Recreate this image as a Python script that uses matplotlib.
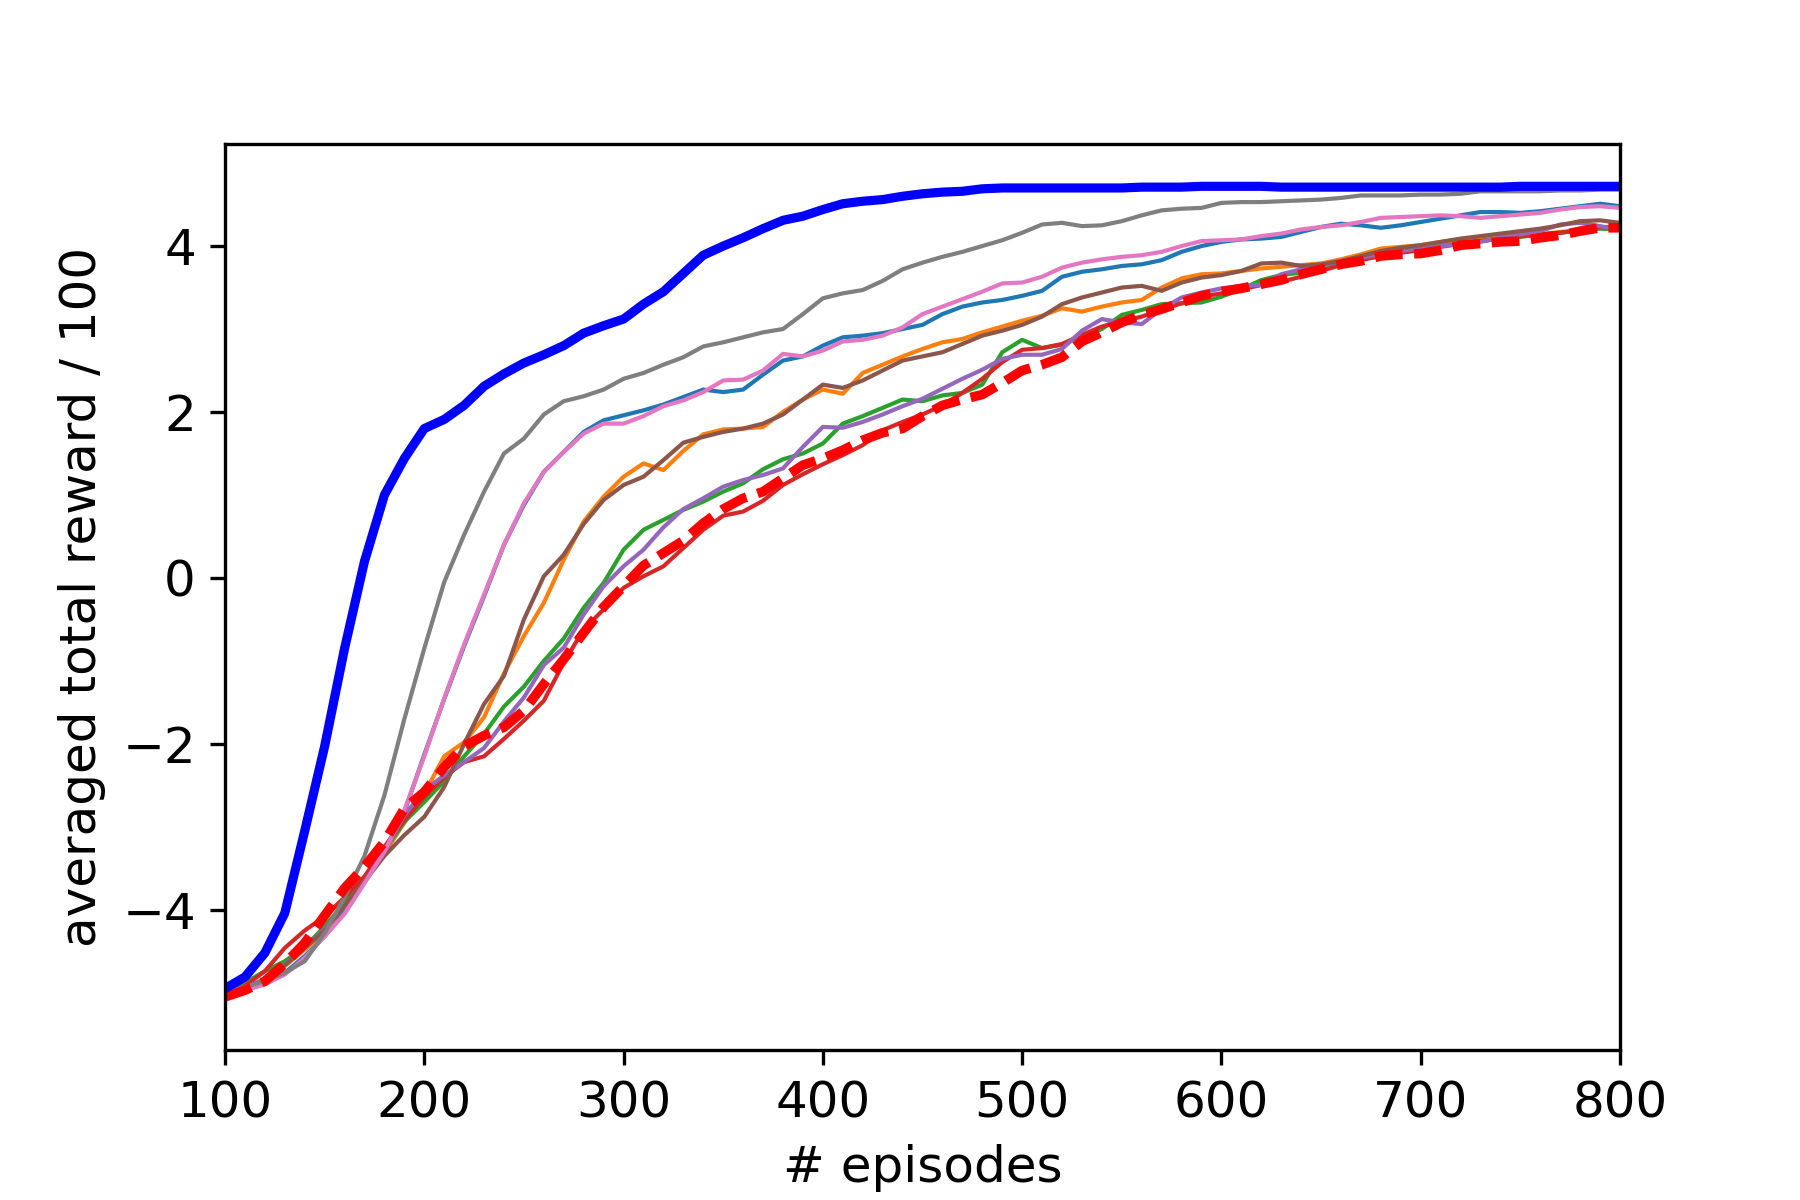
import numpy as np
import matplotlib
matplotlib.use("Agg")
import matplotlib.pyplot as plt

episodes = list(range(100, 801, 10))

ours = [-4.95, -4.81, -4.52, -4.04, -3.05, -2.03, -0.85, 0.20, 1.00, 1.44,
        1.80, 1.91, 2.08, 2.31, 2.46, 2.59, 2.69, 2.80, 2.95, 3.04,
        3.12, 3.30, 3.45, 3.67, 3.89, 4.00, 4.10, 4.21, 4.31, 4.36,
        4.44, 4.51, 4.54, 4.56, 4.60, 4.63, 4.65, 4.66, 4.69, 4.70,
        4.70, 4.70, 4.70, 4.70, 4.70, 4.70, 4.71, 4.71, 4.71, 4.72,
        4.72, 4.72, 4.72, 4.71, 4.71, 4.71, 4.71, 4.71, 4.71, 4.71,
        4.71, 4.71, 4.71, 4.71, 4.71, 4.72, 4.72, 4.72, 4.72, 4.72, 4.72]

baseline = [-5.05, -4.97, -4.86, -4.65, -4.40, -4.07, -3.74, -3.48, -3.18, -2.78,
            -2.58, -2.28, -2.03, -1.90, -1.80, -1.60, -1.28, -0.98, -0.66, -0.35,
            -0.10, 0.15, 0.30, 0.45, 0.66, 0.83, 0.96, 1.04, 1.20, 1.36,
            1.44, 1.54, 1.66, 1.75, 1.80, 1.95, 2.08, 2.15, 2.21, 2.35,
            2.50, 2.57, 2.66, 2.85, 2.96, 3.08, 3.17, 3.24, 3.32, 3.40,
            3.45, 3.49, 3.54, 3.59, 3.66, 3.72, 3.78, 3.82, 3.88, 3.90,
            3.91, 3.95, 4.01, 4.03, 4.05, 4.06, 4.10, 4.13, 4.18, 4.22, 4.22]

v_c0 = [-5.00, -4.95, -4.88, -4.76, -4.56, -4.32, -4.02, -3.66, -3.28, -2.82,
        -2.13, -1.46, -0.82, -0.22, 0.40, 0.88, 1.28, 1.52, 1.76, 1.90,
        1.96, 2.02, 2.09, 2.18, 2.27, 2.24, 2.27, 2.45, 2.62, 2.67,
        2.80, 2.90, 2.92, 2.95, 3.00, 3.05, 3.18, 3.27, 3.32, 3.35,
        3.40, 3.46, 3.63, 3.69, 3.72, 3.76, 3.78, 3.83, 3.93, 4.00,
        4.05, 4.08, 4.09, 4.11, 4.17, 4.23, 4.27, 4.25, 4.22, 4.25,
        4.29, 4.33, 4.37, 4.41, 4.41, 4.40, 4.42, 4.45, 4.48, 4.51, 4.48]

v_c1 = [-5.02, -4.95, -4.85, -4.68, -4.48, -4.28, -3.93, -3.60, -3.32, -2.95,
        -2.60, -2.15, -1.98, -1.68, -1.15, -0.70, -0.30, 0.22, 0.68, 0.98,
        1.22, 1.38, 1.30, 1.53, 1.73, 1.79, 1.80, 1.82, 2.00, 2.15,
        2.27, 2.22, 2.47, 2.57, 2.67, 2.76, 2.84, 2.88, 2.96, 3.03,
        3.10, 3.16, 3.25, 3.21, 3.27, 3.32, 3.35, 3.50, 3.61, 3.66,
        3.67, 3.70, 3.73, 3.75, 3.77, 3.79, 3.84, 3.90, 3.97, 3.99,
        4.01, 4.05, 4.08, 4.10, 4.11, 4.12, 4.14, 4.17, 4.19, 4.22, 4.24]

v_c2 = [-5.02, -4.88, -4.74, -4.62, -4.45, -4.20, -3.92, -3.63, -3.28, -2.94,
        -2.70, -2.45, -2.15, -1.88, -1.55, -1.31, -1.00, -0.73, -0.36, -0.06,
        0.34, 0.58, 0.70, 0.82, 0.92, 1.04, 1.14, 1.31, 1.43, 1.50,
        1.62, 1.86, 1.95, 2.05, 2.15, 2.13, 2.20, 2.23, 2.33, 2.72,
        2.87, 2.77, 2.81, 2.91, 3.00, 3.17, 3.23, 3.30, 3.31, 3.32,
        3.39, 3.48, 3.59, 3.65, 3.68, 3.74, 3.80, 3.85, 3.90, 3.93,
        3.96, 4.00, 4.03, 4.06, 4.09, 4.11, 4.14, 4.16, 4.19, 4.21, 4.20]

v_c3 = [-5.02, -4.92, -4.74, -4.46, -4.25, -4.08, -3.85, -3.60, -3.24, -2.92,
        -2.64, -2.40, -2.22, -2.15, -1.94, -1.72, -1.48, -1.02, -0.62, -0.38,
        -0.12, 0.02, 0.14, 0.36, 0.58, 0.75, 0.80, 0.93, 1.12, 1.25,
        1.37, 1.48, 1.60, 1.78, 1.88, 1.97, 2.08, 2.23, 2.40, 2.60,
        2.75, 2.77, 2.82, 2.93, 3.03, 3.09, 3.15, 3.23, 3.31, 3.39,
        3.43, 3.48, 3.53, 3.57, 3.63, 3.70, 3.77, 3.83, 3.88, 3.92,
        3.95, 3.99, 4.03, 4.06, 4.09, 4.12, 4.14, 4.16, 4.19, 4.23, 4.22]

v_c4 = [-5.02, -4.95, -4.83, -4.66, -4.46, -4.23, -3.96, -3.66, -3.30, -2.86,
        -2.56, -2.38, -2.22, -2.05, -1.73, -1.44, -1.05, -0.84, -0.44, -0.10,
        0.14, 0.34, 0.61, 0.83, 0.96, 1.10, 1.18, 1.24, 1.32, 1.58,
        1.82, 1.81, 1.88, 1.97, 2.07, 2.16, 2.28, 2.40, 2.51, 2.64,
        2.69, 2.69, 2.76, 2.98, 3.12, 3.08, 3.06, 3.24, 3.38, 3.44,
        3.49, 3.52, 3.53, 3.66, 3.72, 3.76, 3.82, 3.86, 3.90, 3.94,
        3.97, 4.00, 4.02, 4.05, 4.10, 4.14, 4.18, 4.26, 4.28, 4.24, 4.20]

v_c5 = [-5.02, -4.95, -4.84, -4.67, -4.46, -4.25, -3.95, -3.66, -3.35, -3.10,
        -2.88, -2.52, -2.00, -1.52, -1.18, -0.50, 0.02, 0.28, 0.65, 0.94,
        1.12, 1.22, 1.42, 1.63, 1.70, 1.76, 1.80, 1.86, 1.97, 2.15,
        2.33, 2.29, 2.38, 2.50, 2.62, 2.67, 2.72, 2.82, 2.92, 2.98,
        3.05, 3.15, 3.30, 3.38, 3.44, 3.50, 3.52, 3.46, 3.56, 3.62,
        3.65, 3.70, 3.79, 3.80, 3.76, 3.78, 3.82, 3.88, 3.94, 3.98,
        4.01, 4.05, 4.09, 4.12, 4.15, 4.18, 4.21, 4.25, 4.30, 4.31, 4.28]

v_c6 = [-5.02, -4.97, -4.90, -4.78, -4.58, -4.32, -4.05, -3.68, -3.30, -2.80,
        -2.15, -1.45, -0.80, -0.20, 0.40, 0.90, 1.28, 1.52, 1.74, 1.86,
        1.86, 1.95, 2.07, 2.14, 2.24, 2.38, 2.39, 2.50, 2.70, 2.67,
        2.74, 2.85, 2.87, 2.92, 3.02, 3.18, 3.27, 3.36, 3.45, 3.55,
        3.56, 3.63, 3.74, 3.80, 3.84, 3.87, 3.89, 3.93, 4.00, 4.06,
        4.07, 4.08, 4.12, 4.15, 4.20, 4.23, 4.25, 4.29, 4.34, 4.35,
        4.36, 4.37, 4.36, 4.34, 4.36, 4.38, 4.40, 4.44, 4.47, 4.48, 4.46]

v_c7 = [-5.00, -4.93, -4.86, -4.76, -4.62, -4.28, -3.85, -3.35, -2.62, -1.70,
        -0.85, -0.05, 0.52, 1.04, 1.50, 1.68, 1.97, 2.13, 2.19, 2.27,
        2.40, 2.47, 2.57, 2.66, 2.79, 2.84, 2.90, 2.96, 3.00, 3.18,
        3.37, 3.43, 3.47, 3.58, 3.72, 3.80, 3.87, 3.93, 4.00, 4.07,
        4.16, 4.26, 4.28, 4.24, 4.25, 4.30, 4.37, 4.43, 4.45, 4.46,
        4.52, 4.53, 4.53, 4.54, 4.55, 4.56, 4.58, 4.61, 4.61, 4.61,
        4.62, 4.62, 4.63, 4.66, 4.66, 4.66, 4.66, 4.67, 4.67, 4.68, 4.68]

thin_series = [v_c0, v_c1, v_c2, v_c3, v_c4, v_c5, v_c6, v_c7]
thin_colors = ["tab:blue", "tab:orange", "tab:green", "tab:red",
               "tab:purple", "tab:brown", "tab:pink", "tab:gray"]

plt.rcParams["font.family"] = ["DejaVu Sans"]
plt.rcParams["font.size"] = 12

fig, ax = plt.subplots(figsize=(6, 4), dpi=300)
fig.subplots_adjust(left=0.125, right=0.9, top=0.88, bottom=0.125)

for vals, col in zip(thin_series, thin_colors):
    ax.plot(episodes, vals, color=col, linewidth=1.0)

ax.plot(episodes, baseline, color="red", linewidth=2.3, linestyle=(0, (2.9, 1.2)))
ax.plot(episodes, ours, color="blue", linewidth=2.2)

ax.set_xlim(100, 800)
ax.set_ylim(-5.69, 5.23)
ax.set_yticks([-4, -2, 0, 2, 4])
ax.set_xlabel("# episodes")
ax.set_ylabel("averaged total reward / 100")

fig.savefig("out.png", dpi=300)
